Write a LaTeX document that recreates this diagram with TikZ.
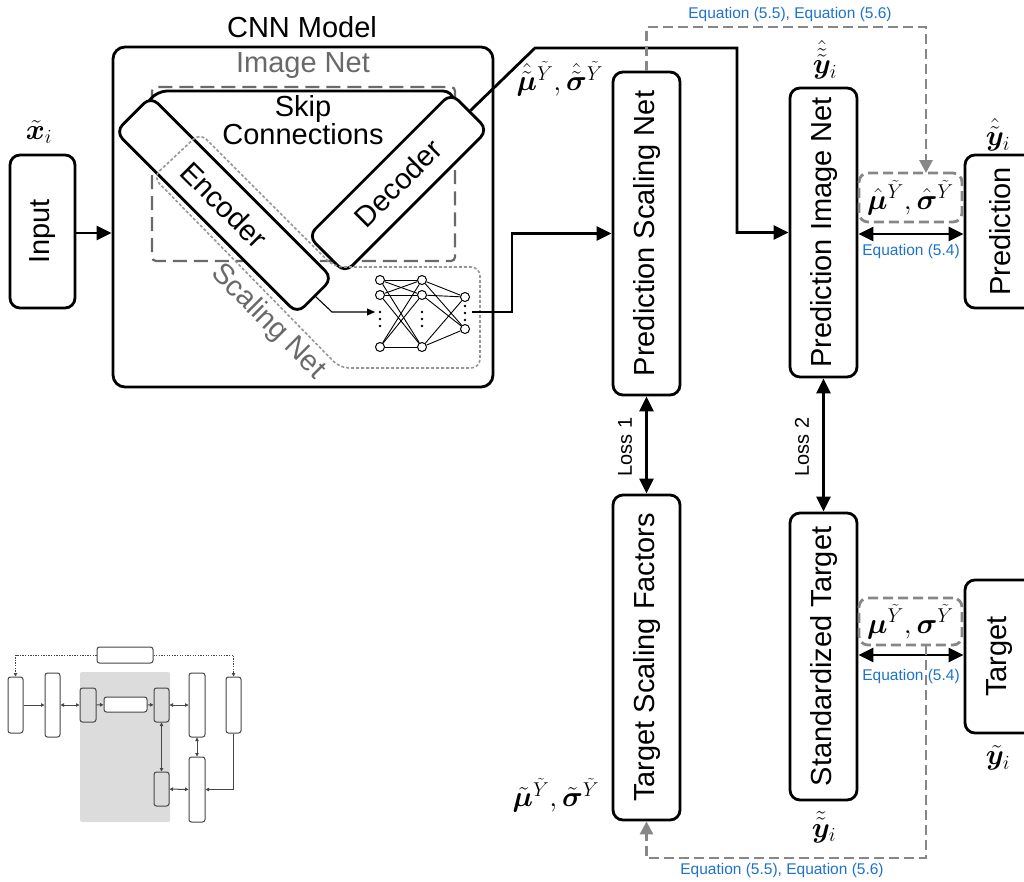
\documentclass[tikz,border=0pt]{standalone}
\usepackage[no-math]{fontspec}
\setmainfont{Liberation Sans}
\usepackage{amsmath,bm,graphicx}
\usetikzlibrary{arrows.meta,calc}
\definecolor{eqblue}{RGB}{30,115,200}
\definecolor{conngray}{RGB}{135,135,135}
\definecolor{netgray}{RGB}{105,105,105}
\definecolor{sngray}{RGB}{150,150,150}
\definecolor{minibg}{RGB}{221,220,220}
\definecolor{miniline}{RGB}{70,70,70}
\newcommand\boxfont{\fontsize{29}{27}\selectfont}
\newcommand\labfont{\fontsize{24}{28}\selectfont}
\newcommand\eqfont{\fontsize{15.5}{18}\selectfont}
\newcommand\lossfont{\fontsize{20}{24}\selectfont}
% enlarged math label
\newcommand\bigmath[1]{\scalebox{1.16}{$#1$}}
\begin{document}
\begin{tikzpicture}[x=1pt,y=-1pt,
  blk/.style={draw, line width=2.8pt, rounded corners=10pt, fill=white, inner sep=0pt, font=\boxfont},
  lab/.style={inner sep=0pt, font=\labfont},
  txt/.style={inner sep=0pt, font=\boxfont},
  gtxt/.style={inner sep=0pt, font=\boxfont, text=netgray},
  eqlab/.style={inner sep=0pt, font=\eqfont, text=eqblue},
  losslab/.style={inner sep=0pt, font=\lossfont, rotate=90},
  arr/.style={line width=2.8pt, -{Triangle[length=15pt,width=14pt]}},
  darr/.style={line width=2.8pt, {Triangle[length=15pt,width=14pt]}-{Triangle[length=15pt,width=14pt]}},
  gconn/.style={conngray, line width=2.8pt, dash pattern=on 10pt off 5pt, -{Triangle[length=13pt,width=13pt]}},
  gbox/.style={draw=conngray, line width=2.8pt, dash pattern=on 10pt off 5pt, rounded corners=9pt, inner sep=0pt, font=\labfont},
  neuron/.style={circle, draw, line width=1pt, fill=white, minimum size=9pt, inner sep=0pt},
  nnedge/.style={line width=0.9pt},
  mbox/.style={draw=miniline, line width=1pt, rounded corners=2.5pt, fill=white, inner sep=0pt},
  mline/.style={miniline, line width=1pt, -{Triangle[length=3.5pt,width=3.5pt]}},
  mdline/.style={miniline, line width=1pt, {Triangle[length=3.5pt,width=3.5pt]}-{Triangle[length=3.5pt,width=3.5pt]}},
  mdot/.style={mline, dash pattern=on 1.3pt off 1.3pt}
]
\useasboundingbox (0,0) rectangle (1024,881);

% ---------- input ----------
\node[blk, minimum width=65, minimum height=153] (inp) at (42.5,231.5) {\rotatebox{90}{Input}};
\node[lab] (xlab) at (39,132) {\bigmath{\tilde{\bm{x}}_i}};

% ---------- CNN model ----------
\node[draw, line width=2.8pt, rounded corners=12pt, minimum width=380, minimum height=340] (cnn) at (303,217) {};
\node[txt] (cnnlab) at (302,27) {CNN Model};
\draw[arr] (inp.east |- 0,233) -- (cnn.west |- 0,233);

% image net frame
\draw[netgray, line width=2.2pt, dash pattern=on 14pt off 7pt, rounded corners=4pt] (152,87) rectangle (455,261);
\node[gtxt] (imglab) at (303,66) {Image Net};

% skip connections (ends hidden under encoder and decoder)
\draw[line width=2.8pt, rounded corners=10pt] (140,112) -- (157,91) -- (453,91) -- (456,118);
\node[txt, align=center] (skiplab) at (303,120) {Skip\\Connections};

\node[blk, minimum width=257, minimum height=50, rotate=-45] (enc) at (224,205) {Encoder};
\node[blk, minimum width=202, minimum height=52, rotate=45] (dec) at (398,183) {Decoder};

% scaling net frame
\draw[sngray, line width=1.6pt, dash pattern=on 3pt off 2pt, rounded corners=9pt]
  (153,177) -- (200,133) -- (334,267) -- (480,267) -- (480,368) -- (340,368) -- cycle;
\node[gtxt, rotate=-45] (snlab) at (268,322) {Scaling Net};

% fully connected net
\foreach \i/\y in {1/280,2/295,3/347} {
  \node[neuron] (a\i) at (380,\y) {};
  \node[neuron] (b\i) at (422,\y) {};
}
\foreach \i/\y in {1/297,2/329} \node[neuron] (c\i) at (465,\y) {};
\foreach \i in {1,2,3} {
  \foreach \j in {1,2,3} \draw[nnedge] (a\i) -- (b\j);
  \foreach \j in {1,2} \draw[nnedge] (b\i) -- (c\j);
}
\foreach \x in {380,422} \foreach \y in {312,319,326} \fill (\x,\y) circle (1.4);
\foreach \y in {306,313,320} \fill (465,\y) circle (1.4);

\coordinate (nnin) at (375,312);
\coordinate (nnout) at (472,312);
\draw[line width=1.1pt, -{Triangle[length=8pt,width=7pt]}] (enc.east) -- (332,312) -- (nnin);

% ---------- scaling branch ----------
\node[blk, minimum width=67, minimum height=323] (psn) at (646.5,233.5) {\rotatebox{90}{Prediction Scaling Net}};
\node[blk, minimum width=67, minimum height=325] (tsf) at (646.5,657.5) {\rotatebox{90}{Target Scaling Factors}};
\node[lab] (psnlab) at (560,79) {\bigmath{\hat{\tilde{\bm{\mu}}}^{\tilde{Y}},\hat{\tilde{\bm{\sigma}}}^{\tilde{Y}}}};
\node[lab] (tsflab) at (556,795) {\bigmath{\tilde{\bm{\mu}}^{\tilde{Y}},\tilde{\bm{\sigma}}^{\tilde{Y}}}};

\draw[arr] (nnout) -- (512,312) |- (psn.west);
\draw[darr] (psn) -- (tsf);
\node[losslab] (loss1) at (625,447) {Loss 1};

% ---------- image branch ----------
\node[blk, minimum width=67, minimum height=289] (pin) at (823.5,232.5) {\rotatebox{90}{Prediction Image Net}};
\node[blk, minimum width=67, minimum height=287] (std) at (823.5,656.5) {\rotatebox{90}{Standardized Target}};
\node[lab] (pinlab) at (825,60) {\bigmath{\hat{\tilde{\tilde{\bm{y}}}}_i}};
\node[lab] (stdlab) at (824,827) {\bigmath{\tilde{\tilde{\bm{y}}}_i}};

\draw[arr] (dec.east) -- (535,48) -- (737,48) |- (pin.west);
\draw[darr] (pin) -- (std);
\node[losslab] (loss2) at (802,447) {Loss 2};

% ---------- outputs ----------
\node[blk, minimum width=70, minimum height=153] (pred) at (1000,231.5) {\rotatebox{90}{Prediction}};
\node[blk, minimum width=70, minimum height=153] (targ) at (1000,656.5) {\rotatebox{90}{Target}};
\node[lab] (predlab) at (998,135) {\bigmath{\hat{\tilde{\bm{y}}}_i}};
\node[lab] (targlab) at (998,758) {\bigmath{\tilde{\bm{y}}_i}};

\node[gbox, minimum width=103, minimum height=49] (mhat) at (910.5,197.5) {\bigmath{\hat{\bm{\mu}}^{\tilde{Y}},\hat{\bm{\sigma}}^{\tilde{Y}}}};
\node[gbox, minimum width=103, minimum height=47] (mtrue) at (910.5,621.5) {\bigmath{\bm{\mu}^{\tilde{Y}},\bm{\sigma}^{\tilde{Y}}}};

\draw[darr] (pin.east |- 0,234) -- (pred.west |- 0,234);
\node[eqlab] (eq4a) at (911,251) {Equation (5.4)};
\draw[darr] (std.east |- 0,655) -- (targ.west |- 0,655);
\node[eqlab] (eq4b) at (911,676) {Equation (5.4)};

% ---------- rescaling paths ----------
\coordinate (mhatin) at (926,173);
\coordinate (mtrueout) at (926,645);
\draw[gconn] (psn.north) -- (646.5,27) -| (mhatin);
\node[eqlab] (eq56a) at (790,14) {Equation (5.5), Equation (5.6)};
\draw[gconn] (mtrueout) -- (926,858) -| (tsf.south);
\node[eqlab] (eq56b) at (782,870) {Equation (5.5), Equation (5.6)};

% ---------- overview sketch ----------
\fill[minibg, rounded corners=2pt] (80,672) rectangle (170,822);
\node[mbox, minimum width=56, minimum height=16] (mt) at (125,655) {};
\node[mbox, minimum width=15, minimum height=56] (ma) at (15.5,705) {};
\node[mbox, minimum width=15, minimum height=64] (mb) at (52.5,705) {};
\node[mbox, fill=none, minimum width=16, minimum height=34] (mc) at (88,705) {};
\node[mbox, minimum width=43, minimum height=15] (md) at (125.5,704.5) {};
\node[mbox, fill=none, minimum width=15, minimum height=34] (me) at (161.5,705) {};
\node[mbox, minimum width=16, minimum height=64] (mf) at (197,705) {};
\node[mbox, minimum width=15, minimum height=56] (mg) at (233.5,705) {};
\node[mbox, fill=none, minimum width=15, minimum height=34] (mh) at (161.5,789) {};
\node[mbox, minimum width=16, minimum height=65] (mi) at (197,789.5) {};
\draw[mdot] (mt.west) -| (ma.north);
\draw[mdot] (mt.east) -| (mg.north);
\draw[mline] (ma) -- (mb);
\draw[mdline] (mb) -- (mc);
\draw[mline] (mc) -- (md);
\draw[mline] (md) -- (me);
\draw[mdline] (me) -- (mf);
\draw[mdline] (me) -- (mh);
\draw[mdline] (mf) -- (mi);
\draw[mdline] (mh) -- (mi);
\draw[mline] (mg.south) |- (mi.east);
\end{tikzpicture}
\end{document}
